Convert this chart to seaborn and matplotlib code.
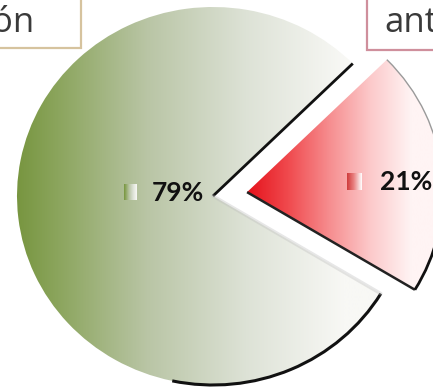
import numpy as np
import matplotlib
matplotlib.use("Agg")
import matplotlib.pyplot as plt
import seaborn as sns
from matplotlib.colors import LinearSegmentedColormap
from matplotlib.patches import Arc, Rectangle

# ---- data -------------------------------------------------------------
categories = ["Con intervención", "antecedentes"]
shares = [79, 21]
pct_labels = ["79%", "21%"]

# ---- style ------------------------------------------------------------
sns.set_theme(style="white")
plt.rcParams["font.family"] = ["Lato", "DejaVu Sans"]

W, H = 433, 388
fig = plt.figure(figsize=(W / 100, H / 100), dpi=100)
ax = fig.add_axes([0, 0, 1, 1])

SX, SY = 196.0, 189.0   # pixels per unit of pie radius (slightly wide pie)
CX, CY = 213, 196       # pie centre, pixels from the top-left corner


def px(x, y):
    """Pixel position (top-left origin) -> data coordinates."""
    return (x - CX) / SX, (CY - y) / SY


wedges, _ = ax.pie(
    shares,
    startangle=44.5,
    counterclock=True,
    explode=[0, 0.175],
    radius=1.0,
    wedgeprops=dict(linewidth=0, facecolor="white"),
)

green_stops = [(0.0, "#77953f"), (0.12, "#8aa45b"), (0.4, "#b9c5a5"),
               (0.7, "#dde2d6"), (1.0, "#f8f8f5")]
red_stops = [(0.0, "#e5121b"), (0.25, "#f04a4e"), (0.5, "#f68d8f"),
             (0.75, "#fcc9ca"), (1.0, "#fff4f4")]


def gradient_fill(patch, stops, x0, x1, z=1):
    cmap = LinearSegmentedColormap.from_list("grad", stops)
    xs = np.linspace(-1.3, 1.4, 700)
    t = np.clip((xs - x0) / (x1 - x0), 0, 1)
    img = cmap(t)[None, :, :]
    im = ax.imshow(img, extent=(xs[0], xs[-1], -1.2, 1.2), aspect="auto",
                   interpolation="bilinear", zorder=z)
    im.set_clip_path(patch)
    return im


green, red = wedges
gradient_fill(green, green_stops, px(15, 0)[0], px(345, 0)[0])
gradient_fill(red, red_stops, px(247, 0)[0], px(412, 0)[0])

# outline / shadow strokes along wedge borders
gc = np.array(green.center)
a = np.deg2rad(green.theta1)
ax.plot([gc[0], gc[0] + np.cos(a)], [gc[1], gc[1] + np.sin(a)],
        color="#111111", lw=2.0, solid_capstyle="butt", zorder=3)
ax.add_patch(Arc(gc, 2, 2, theta1=258, theta2=green.theta2,
                 color="#111111", lw=2.2, zorder=3))
b = np.deg2rad(green.theta2)
ax.plot([gc[0], gc[0] + np.cos(b)], [gc[1], gc[1] + np.sin(b)],
        color="#bbbbbb", lw=2.5, alpha=0.35, zorder=3)

rc = np.array(red.center)
a = np.deg2rad(red.theta1)
ax.plot([rc[0], rc[0] + np.cos(a)], [rc[1], rc[1] + np.sin(a)],
        color="#222222", lw=1.8, solid_capstyle="butt", zorder=3)
ax.add_patch(Arc(rc, 2, 2, theta1=red.theta1, theta2=red.theta1 + 36,
                 color="#111111", lw=2.0, zorder=3))
ax.add_patch(Arc(rc, 2, 2, theta1=red.theta1 + 36, theta2=red.theta2,
                 color="#9a9a9a", lw=1.0, zorder=3))

# data labels with small legend keys
label_px = [(152, 193), (380, 182)]
key_px = [(124, 184, 137, 200), (347, 173, 362, 190)]
key_stops = [green_stops, [(0.0, "#cf3b3b"), (0.45, "#e98080"), (1.0, "#ffffff")]]
for txt, (lx, ly), (k0, k1, k2, k3), ks in zip(pct_labels, label_px, key_px, key_stops):
    x, y = px(lx, ly)
    ax.text(x, y, txt, ha="left", va="center", fontsize=19,
            fontweight="bold", color="#111111", zorder=5)
    cmap = LinearSegmentedColormap.from_list("key", ks)
    x0, y0 = px(k0, k3)
    x1, y1 = px(k2, k1)
    ax.imshow(cmap(np.linspace(0, 1, 64))[None, :, :],
              extent=(x0, x1, y0, y1), aspect="auto", zorder=5)

# category boxes at the top corners
box_specs = [((-5, -5, 81, 48), "#d6c39e", (34, 32), "right"),
             ((367, -5, 445, 50), "#cf8f9c", (384, 32), "left")]
for name, (rect, ec, (tx, ty), ha) in zip(categories, box_specs):
    x0, y1 = px(rect[0], rect[1])
    x1, y0 = px(rect[2], rect[3])
    ax.add_patch(Rectangle((x0, y0), x1 - x0, y1 - y0, facecolor="white",
                           edgecolor=ec, lw=1.6, zorder=6))
    x, y = px(tx, ty)
    ax.text(x, y, name, ha=ha, va="baseline", fontsize=25,
            family=["Open Sans", "DejaVu Sans"], color="#3a3a3a", zorder=7)

ax.set_xlim(-CX / SX, (W - CX) / SX)
ax.set_ylim(-(H - CY) / SY, CY / SY)
ax.set_axis_off()

fig.savefig("out.png", dpi=100)
